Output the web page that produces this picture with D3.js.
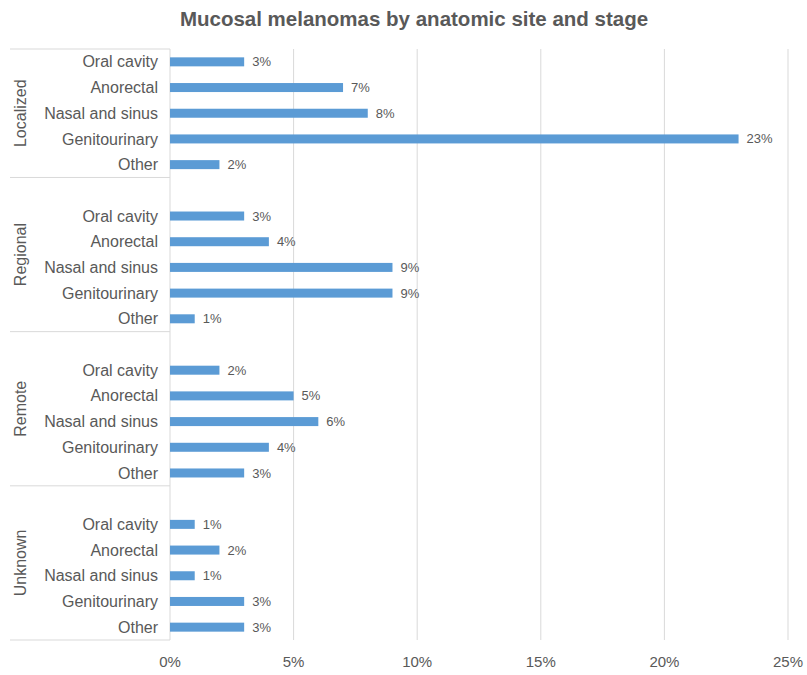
<!DOCTYPE html>
<html><head><meta charset="utf-8">
<script src="https://cdn.jsdelivr.net/npm/d3@7"></script>
<style>body{margin:0;background:#fff;font-family:"Liberation Sans",Arial,sans-serif;}</style>
</head><body>
<script>
const title = "Mucosal melanomas by anatomic site and stage";
const stages = ["Localized", "Regional", "Remote", "Unknown"];
const sites = ["Oral cavity", "Anorectal", "Nasal and sinus", "Genitourinary", "Other"];
const localized = [3, 7, 8, 23, 2];
const regional = [3, 4, 9, 9, 1];
const remote = [2, 5, 6, 4, 3];
const unknown = [1, 2, 1, 3, 3];
const xTicks = [0, 5, 10, 15, 20, 25];
const seriesByStage = [localized, regional, remote, unknown];

const W = 807, H = 675;
const m = {top: 49, left: 170, right: 19, bottom: 35};
const svg = d3.select("body").append("svg").attr("width", W).attr("height", H);
const textColor = "#595959", lineColor = "#d9d9d9";

// build rows (Excel-style: blank slot before each group except first)
const rows = [];
stages.forEach((s, gi) => {
  if (gi > 0) rows.push({key: s + "|blank", stage: s, blank: true});
  sites.forEach((site, i) => rows.push({key: s + "|" + site, stage: s, site, value: seriesByStage[gi][i]}));
});

const x = d3.scaleLinear().domain([0, 25]).range([m.left, W - m.right]);
const y = d3.scaleBand().domain(rows.map(r => r.key)).range([m.top, H - m.bottom]).paddingInner(0.64).paddingOuter(0.32);
const step = y.step();

svg.append("text").attr("x", 414).attr("y", 26).attr("text-anchor", "middle")
  .attr("font-size", 20.5).attr("font-weight", "bold").attr("fill", textColor).text(title);

// gridlines
svg.append("g").selectAll("line").data(xTicks).join("line")
  .attr("x1", d => x(d)).attr("x2", d => x(d))
  .attr("y1", m.top).attr("y2", H - m.bottom)
  .attr("stroke", lineColor).attr("stroke-width", 1);

// group boundaries
const bounds = [];
let idx = 0;
stages.forEach((s, gi) => {
  const n = gi > 0 ? 6 : 5;
  bounds.push({stage: s, start: idx, end: idx + n});
  idx += n;
});
const yEdge = i => m.top + i * step;
svg.append("g").selectAll("line").data([0, ...bounds.map(b => b.end)]).join("line")
  .attr("x1", 10).attr("x2", m.left)
  .attr("y1", d => yEdge(d)).attr("y2", d => yEdge(d))
  .attr("stroke", lineColor);

// bars
const barRows = rows.filter(r => !r.blank);
svg.append("g").selectAll("rect").data(barRows).join("rect")
  .attr("x", x(0)).attr("y", d => y(d.key) + y.bandwidth()/2 - 4.5)
  .attr("width", d => x(d.value) - x(0)).attr("height", 9)
  .attr("fill", "#5b9bd5");

// value labels
svg.append("g").selectAll("text").data(barRows).join("text")
  .attr("x", d => x(d.value) + 8).attr("y", d => y(d.key) + y.bandwidth()/2)
  .attr("dy", "0.35em").attr("font-size", 13).attr("fill", textColor)
  .text(d => d.value + "%");

// category labels
svg.append("g").selectAll("text").data(barRows).join("text")
  .attr("x", m.left - 12).attr("y", d => y(d.key) + y.bandwidth()/2)
  .attr("dy", "0.35em").attr("text-anchor", "end").attr("font-size", 16).attr("fill", textColor)
  .text(d => d.site);

// stage labels
svg.append("g").selectAll("text").data(bounds).join("text")
  .attr("transform", d => `translate(26,${(yEdge(d.start) + yEdge(d.end))/2}) rotate(-90)`)
  .attr("text-anchor", "middle").attr("font-size", 16).attr("fill", textColor)
  .text(d => d.stage);

// x axis tick labels
svg.append("g").selectAll("text").data(xTicks).join("text")
  .attr("x", d => x(d)).attr("y", 667).attr("text-anchor", "middle")
  .attr("font-size", 15).attr("fill", textColor).text(d => d + "%");
</script>
</body></html>
